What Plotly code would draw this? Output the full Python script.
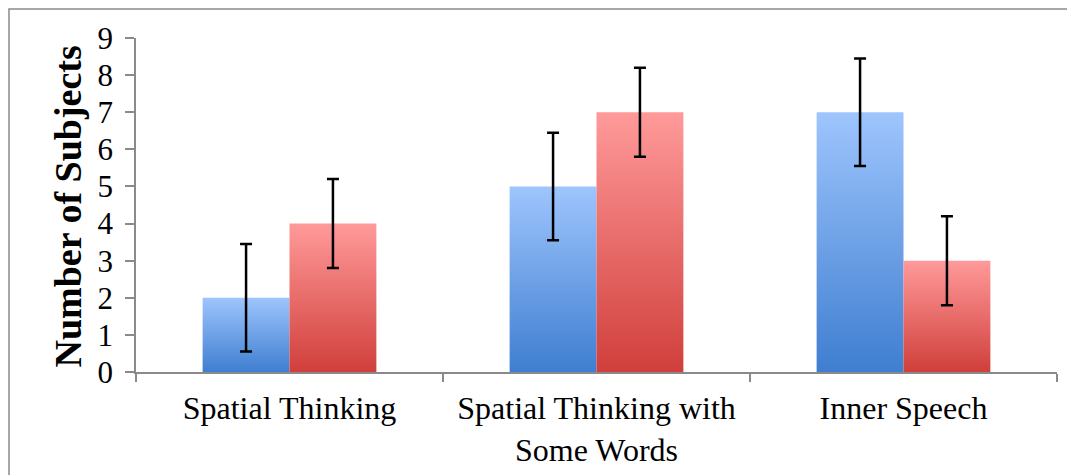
import plotly.graph_objects as go

categories = ["Spatial Thinking", "Spatial Thinking with<br>Some Words", "Inner Speech"]
series_a = [2, 5, 7]          # blue
series_b = [4, 7, 3]          # red
err_a = [1.45, 1.45, 1.45]
err_b = [1.2, 1.2, 1.2]
y_ticks = list(range(0, 10))
y_title = "Number of Subjects"

BAR_W = 0.283
OFF = BAR_W / 2
FONT = "Liberation Serif"
AXIS_COL = "#8a8a8a"

blue_scale = [[0, "#3f7ed0"], [1, "#9ec5fd"]]
red_scale = [[0, "#d03f3b"], [1, "#ff9a9a"]]

fig = go.Figure()

def add_bars(values, offset, scale):
    for i, v in enumerate(values):
        cx = i + offset
        xs = [cx - BAR_W / 2, cx + BAR_W / 2, cx + BAR_W / 2, cx - BAR_W / 2, cx - BAR_W / 2]
        ys = [0, 0, v, v, 0]
        fig.add_trace(go.Scatter(
            x=xs, y=ys, mode="lines", fill="toself",
            line=dict(width=0, color="rgba(0,0,0,0)"),
            fillgradient=dict(type="vertical", colorscale=scale, start=0, stop=v),
            hoverinfo="skip", showlegend=False,
        ))

def add_err(values, errs, offset):
    fig.add_trace(go.Scatter(
        x=[i + offset for i in range(len(values))], y=values, mode="markers",
        marker=dict(size=1, opacity=0),
        error_y=dict(type="data", array=errs, visible=True, color="black",
                     thickness=2.5, width=6),
        hoverinfo="skip", showlegend=False,
    ))

add_bars(series_a, -OFF, blue_scale)
add_bars(series_b, OFF, red_scale)
add_err(series_a, err_a, -OFF)
add_err(series_b, err_b, OFF)

fig.update_layout(
    width=1067, height=467,
    margin=dict(l=128, r=18, t=30, b=103),
    paper_bgcolor="white", plot_bgcolor="white",
    font=dict(family=FONT, color="black", size=31),
    showlegend=False,
    xaxis=dict(
        range=[-0.5, len(categories) - 0.5],
        tickmode="array", tickvals=list(range(len(categories))), ticktext=categories,
        ticks="", showgrid=False, zeroline=False,
        showline=True, linecolor=AXIS_COL, linewidth=1.5,
        tickfont=dict(size=32, family=FONT, color="black"),
        ticklabelstandoff=7,
        minor=dict(tickmode="array", tickvals=[i - 0.5 for i in range(len(categories) + 1)],
                   ticks="outside", ticklen=8, tickcolor=AXIS_COL, tickwidth=1.5, showgrid=False),
        automargin=False,
        fixedrange=True,
    ),
    yaxis=dict(
        range=[0, 9], tickmode="array", tickvals=y_ticks,
        ticks="outside", ticklen=9, tickcolor=AXIS_COL, tickwidth=1.5,
        showgrid=False, zeroline=False,
        showline=True, linecolor=AXIS_COL, linewidth=1.5,
        tickfont=dict(size=31, family=FONT, color="black"),
        ticklabelstandoff=6,
        automargin=False,
        fixedrange=True,
    ),
    annotations=[dict(text=f"<b>{y_title}</b>", textangle=-90, showarrow=False,
                      xref="paper", yref="paper", x=-0.0749, y=0.4955,
                      xanchor="center", yanchor="middle",
                      font=dict(size=38, family=FONT, color="black"))],
    shapes=[dict(type="rect", xref="paper", yref="paper",
                 x0=-0.1379, x1=1.2, y0=-0.9, y1=1.0868,
                 line=dict(color=AXIS_COL, width=1.5), fillcolor="rgba(0,0,0,0)", layer="below")],
)

fig.write_html("out.html")
